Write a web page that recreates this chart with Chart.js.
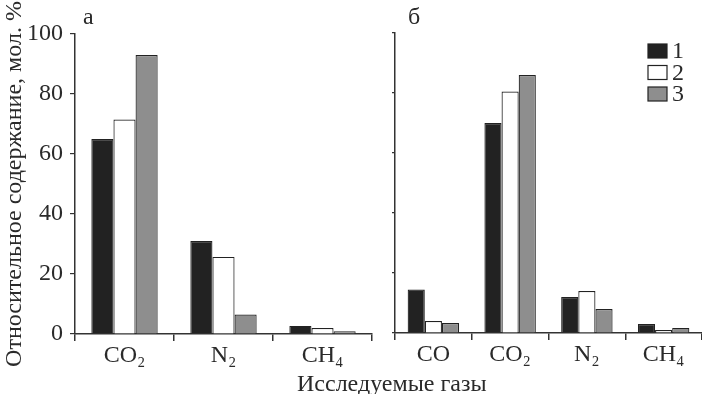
<!DOCTYPE html>
<html><head><meta charset="utf-8">
<script src="https://cdn.jsdelivr.net/npm/chart.js@4/dist/chart.umd.min.js"></script>
<style>
html,body{margin:0;padding:0;background:#fff;}
#wrap{position:relative;width:702px;height:394px;overflow:hidden;font-family:'Liberation Serif','Times New Roman',serif;color:#2a2a2a;}
canvas{position:absolute;top:0;}
#cA{left:0;} #cB{left:380px;}
.lbl{position:absolute;font-size:24px;line-height:24px;white-space:nowrap;}
</style></head>
<body><div id="wrap">
<canvas id="cA" width="380" height="394"></canvas>
<canvas id="cB" width="322" height="394"></canvas>
<div class="lbl" style="left:83px;top:4px;">а</div>
<div class="lbl" style="left:408px;top:4px;">б</div>
<div class="lbl" style="left:297px;top:371px;">Исследуемые газы</div>
</div>
<script>
const seriesNames = ['1', '2', '3'];
const categoriesA = ['CO₂', 'N₂', 'CH₄'];
const a1 = [65, 31, 2.7];
const a2 = [71.5, 25.7, 2.0];
const a3 = [93, 6.5, 0.9];
const categoriesB = ['CO', 'CO₂', 'N₂', 'CH₄'];
const b1 = [14.5, 70, 12, 3];
const b2 = [4, 80.5, 14, 1];
const b3 = [3.3, 86, 8, 1.7];
const yTicks = [0, 20, 40, 60, 80, 100];

const FONT = "'Liberation Serif','Times New Roman',serif";
const TXT = '#2a2a2a';
const fills = ['#222222', '#ffffff', '#8e8e8e'];
const borders = '#222222';

function datasets(vals) {
  return vals.map((v, i) => ({
    label: seriesNames[i], data: v,
    backgroundColor: fills[i], borderColor: borders, borderWidth: 1.2,
    categoryPercentage: 0.67, barPercentage: 1.0
  }));
}

function makeOptions(showLabels, yWidth, top, right, xHeight) {
  return {
    responsive: false, animation: false,
    layout: { padding: { top: top, right: right, left: 0, bottom: 0 } },
    plugins: { legend: { display: false }, tooltip: { enabled: false } },
    scales: {
      x: {
        offset: true,
        border: { display: true, color: '#333', width: 1.5 },
        grid: { display: true, drawOnChartArea: false, drawTicks: true, tickLength: 7, color: '#333', lineWidth: 1.5, offset: true },
        ticks: { color: TXT, font: { family: FONT, size: 24 }, padding: 0, maxRotation: 0 },
        afterFit: s => { s.height = xHeight; }
      },
      y: {
        min: 0, max: 100,
        afterBuildTicks: s => { s.ticks = yTicks.map(v => ({ value: v })); },
        border: { display: true, color: '#333', width: 1.5 },
        grid: { display: true, drawOnChartArea: false, drawTicks: true, tickLength: showLabels ? 5 : 3, color: '#333', lineWidth: 1.2 },
        ticks: { display: showLabels, color: TXT, font: { family: FONT, size: 24 }, padding: 7 },
        title: showLabels ? { display: true, text: 'Относительное содержание, мол. %', color: TXT, font: { family: FONT, size: 24 }, padding: { top: 0, bottom: 0 } } : { display: false },
        afterFit: s => { s.width = yWidth; }
      }
    }
  };
}

const legendPlugin = {
  id: 'boxLegend',
  afterDraw(chart) {
    const ctx = chart.ctx;
    ctx.save();
    chart.data.datasets.forEach((ds, i) => {
      const x = 268, y = 44 + i * 21.5;
      ctx.fillStyle = ds.backgroundColor;
      ctx.fillRect(x, y, 19, 14);
      ctx.strokeStyle = ds.borderColor;
      ctx.lineWidth = 1.2;
      ctx.strokeRect(x, y, 19, 14);
      ctx.fillStyle = TXT;
      ctx.font = '24px ' + FONT;
      ctx.textBaseline = 'middle';
      ctx.textAlign = 'left';
      ctx.fillText(ds.label, 292, y + 8);
    });
    ctx.restore();
  }
};

new Chart(document.getElementById('cA'), {
  type: 'bar',
  data: { labels: categoriesA, datasets: datasets([a1, a2, a3]) },
  options: makeOptions(true, 75, 34, 8, 60)
});

new Chart(document.getElementById('cB'), {
  type: 'bar',
  data: { labels: categoriesB, datasets: datasets([b1, b2, b3]) },
  options: makeOptions(false, 15, 33, 0, 61),
  plugins: [legendPlugin]
});
</script>
</body></html>
